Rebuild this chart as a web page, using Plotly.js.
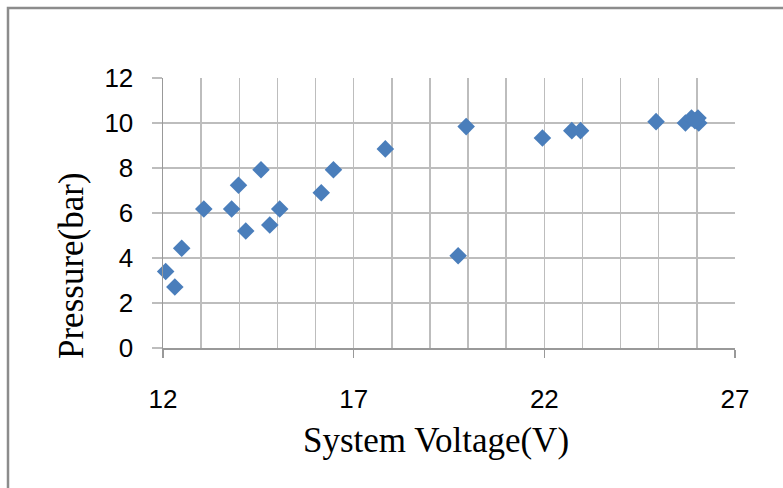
<!DOCTYPE html>
<html>
<head>
<meta charset="utf-8">
<script src="https://cdn.plot.ly/plotly-3.0.1.min.js"></script>
<style>
  html, body { margin: 0; padding: 0; background: #ffffff; }
  #chart { width: 783px; height: 488px; }
</style>
</head>
<body>
<div id="chart"></div>
<script>
// System voltage (V)
const voltage = [12.07, 12.31, 12.49, 13.07, 13.80, 13.98, 14.17, 14.57, 14.80, 15.06,
                 16.15, 16.47, 17.83, 19.74, 19.95, 21.95, 22.72, 22.95, 24.93,
                 25.70, 25.86, 26.03, 26.05, 25.95];
// Pressure (bar)
const pressure = [3.40, 2.71, 4.43, 6.18, 6.18, 7.23, 5.20, 7.92, 5.47, 6.18,
                  6.90, 7.92, 8.85, 4.10, 9.84, 9.33, 9.66, 9.66, 10.06,
                  10.00, 10.22, 10.22, 10.00, 10.10];

const xTickVals = [12, 17, 22, 27];
const yTickVals = [0, 2, 4, 6, 8, 10, 12];
const xTitle = 'System Voltage(V)';
const yTitle = 'Pressure(bar)';

const trace = {
  type: 'scatter',
  mode: 'markers',
  x: voltage,
  y: pressure,
  cliponaxis: false,
  marker: { symbol: 'diamond', size: 13.5, color: '#4a7ebb', line: { width: 0 } },
  hoverinfo: 'x+y'
};

const gridCol = '#bdbdbd';
const tickFont = { size: 26, family: 'Liberation Sans, Arial, sans-serif', color: '#000' };
const titleFont = { family: 'Liberation Serif, Times New Roman, serif', size: 35, color: '#000' };
const layout = {
  width: 783,
  height: 488,
  margin: { l: 163, r: 48, t: 78, b: 140 },
  paper_bgcolor: '#ffffff',
  plot_bgcolor: '#ffffff',
  showlegend: false,
  font: { family: 'Liberation Sans, Arial, sans-serif', color: '#000000' },
  xaxis: {
    range: [12, 27],
    tickvals: xTickVals,
    ticktext: xTickVals.map(String),
    showgrid: true,
    gridcolor: gridCol,
    gridwidth: 1.5,
    minor: { dtick: 1, tick0: 12, showgrid: true, gridcolor: gridCol, gridwidth: 1.5, ticks: '' },
    ticks: 'outside',
    ticklen: 8,
    tickwidth: 1.5,
    tickcolor: '#999999',
    showline: true,
    linecolor: '#999999',
    linewidth: 1.5,
    zeroline: false,
    tickfont: tickFont,
    ticklabelstandoff: 19,
    fixedrange: true
  },
  yaxis: {
    range: [0, 12],
    tickvals: yTickVals,
    ticktext: yTickVals.map(String),
    showgrid: true,
    gridcolor: gridCol,
    gridwidth: 1.5,
    ticks: 'outside',
    ticklen: 10,
    tickwidth: 1.5,
    tickcolor: '#bdbdbd',
    showline: true,
    linecolor: '#999999',
    linewidth: 1.5,
    zeroline: false,
    tickfont: tickFont,
    ticklabelstandoff: 13,
    fixedrange: true
  },
  annotations: [
    {
      text: xTitle, xref: 'paper', yref: 'paper',
      x: (436 - 163) / 572, y: (348 - 440) / 270,
      xanchor: 'center', yanchor: 'middle', showarrow: false,
      font: titleFont
    },
    {
      text: yTitle, xref: 'paper', yref: 'paper',
      x: (71 - 163) / 572, y: (348 - 266) / 270,
      xanchor: 'center', yanchor: 'middle', showarrow: false, textangle: -90,
      font: titleFont
    }
  ],
  shapes: [
    {
      type: 'path', xref: 'paper', yref: 'paper',
      path: 'M ' + ((8 - 163) / 572) + ' ' + ((348 - 600) / 270) +
            ' L ' + ((8 - 163) / 572) + ' ' + ((348 - 8) / 270) +
            ' L ' + ((900 - 163) / 572) + ' ' + ((348 - 8) / 270),
      line: { color: '#8c8c8c', width: 2.5 }
    }
  ]
};

Plotly.newPlot('chart', [trace], layout, { displayModeBar: false, staticPlot: true });
</script>
</body>
</html>
